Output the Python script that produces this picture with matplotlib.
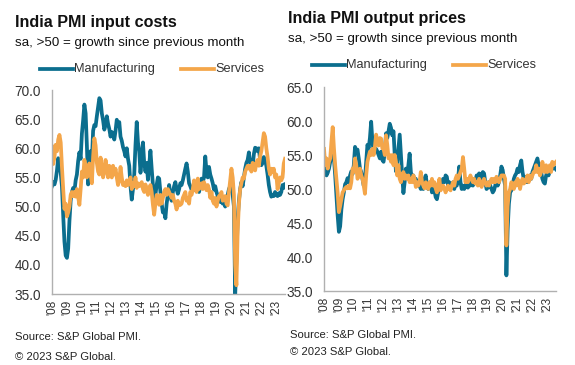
import numpy as np
import matplotlib.pyplot as plt

plt.rcParams['font.family'] = ['Liberation Sans', 'DejaVu Sans']

# Datos mensuales, ene 2008 - ago 2023
meses = np.arange(188)
etiquetas_anios = ["'%02d" % a for a in range(8, 24)]

# Costes de insumos - manufacturas
insumos_manuf = [
    53.5, 54.2, 53.8, 54.6, 56.2, 58.3, 57.5, 55.8, 53.5, 48.5, 44.0, 41.6,
    41.2, 42.8, 47.5, 51.0, 52.5, 53.2, 52.6, 54.5, 55.5, 57.8, 59.3, 58.2,
    62.5, 64.8, 67.5, 66.0, 60.5, 53.8, 55.2, 59.5, 57.8, 63.0, 64.0, 63.8,
    65.5, 67.0, 68.6, 68.2, 66.0, 64.8, 63.2, 64.0, 65.5, 64.2, 63.3, 62.0,
    62.8, 62.4, 61.5, 63.0, 64.9, 63.8, 64.5, 62.0, 61.3, 60.2, 59.5, 58.6,
    60.0, 58.2, 57.0, 53.5, 51.2, 53.0, 55.5, 60.5, 64.5, 61.0, 59.5, 55.8,
    58.0, 61.0, 57.5, 56.0, 57.5, 54.6, 57.0, 59.6, 56.5, 53.7, 50.5, 52.0,
    53.7, 55.0, 54.8, 52.5, 50.5, 49.0, 49.2, 48.0, 50.5, 52.0, 53.7, 52.0,
    51.0, 52.5, 53.5, 54.2, 53.0, 52.2, 53.0, 54.0, 53.7, 54.5, 55.5, 56.5,
    57.4, 56.0, 54.0, 53.5, 52.9, 53.2, 52.8, 53.5, 53.7, 54.0, 52.5, 53.5,
    54.8, 54.2, 55.0, 58.6, 56.0, 55.0, 56.8, 55.5, 54.8, 54.0, 52.9, 53.5,
    52.5, 51.8, 51.5, 50.8, 51.2, 50.5, 51.0, 50.0, 51.5, 52.0, 53.0, 53.5,
    53.0, 52.0, 50.0, 34.8, 41.0, 48.0, 51.0, 53.0, 54.2, 53.5, 55.0, 56.5,
    57.5, 58.0, 59.3, 57.5, 58.0, 57.0, 59.0, 60.1, 60.0, 59.5, 60.0, 58.0,
    57.1, 57.5, 58.5, 58.0, 57.0, 55.5, 53.7, 52.5, 51.7, 52.0, 51.8, 52.5,
    52.0, 51.8, 52.3, 52.0, 52.5, 53.7, 53.2, 53.8,
]

# Costes de insumos - servicios
insumos_serv = [
    60.3, 57.3, 58.5, 60.6, 59.5, 61.5, 62.3, 61.0, 56.8, 53.0, 49.6, 50.5,
    48.3, 49.0, 50.0, 52.0, 52.5, 51.8, 52.5, 51.7, 53.0, 51.7, 50.3, 53.0,
    56.0, 55.0, 58.0, 57.0, 55.0, 56.0, 57.4, 55.5, 54.0, 58.5, 61.7, 60.5,
    57.5, 56.0, 55.5, 58.4, 57.0, 55.0, 56.0, 58.0, 56.5, 55.0, 57.0, 56.2,
    55.0, 57.0, 55.5, 56.5, 55.0, 53.7, 54.5, 56.8, 55.0, 53.7, 54.0, 53.5,
    54.5, 53.7, 54.0, 55.0, 53.0, 54.0, 53.5, 55.0, 53.2, 54.0, 53.5, 53.7,
    54.2, 53.0, 52.5, 53.8, 53.0, 52.0, 53.0, 53.7, 52.5, 50.3, 48.6, 50.5,
    52.0, 51.5, 50.3, 52.0, 50.5, 51.5, 52.5, 53.0, 52.0, 53.0, 52.5, 52.0,
    51.5, 52.0, 51.0, 50.5, 49.5, 51.0, 50.2, 50.3, 50.5, 51.5, 52.0, 52.5,
    51.0, 51.5, 50.5, 52.5, 52.0, 53.0, 54.5, 53.5, 52.5, 54.8, 53.0, 53.5,
    54.0, 53.0, 54.2, 53.5, 52.8, 53.7, 53.0, 51.5, 52.5, 51.0, 50.5, 51.5,
    50.0, 51.0, 51.8, 52.0, 52.5, 51.0, 51.5, 51.8, 50.5, 50.2, 52.5, 54.5,
    56.5, 55.0, 52.0, 40.0, 36.5, 45.7, 50.5, 53.0, 54.0, 55.0, 54.8, 56.0,
    56.5, 57.0, 56.5, 57.0, 56.0, 57.5, 57.0, 56.2, 57.5, 58.0, 57.0, 58.6,
    59.5, 61.0, 62.6, 62.0, 60.0, 58.5, 56.5, 55.5, 56.5, 56.0, 56.5, 55.0,
    55.5, 53.0, 54.0, 55.0, 54.5, 55.0, 57.4, 58.2,
]

# Precios de venta - manufacturas
precios_manuf = [
    54.0, 52.5, 52.0, 52.4, 53.0, 54.0, 55.5, 56.0, 54.5, 52.0, 49.0, 46.1,
    43.7, 44.5, 47.0, 48.5, 49.5, 50.7, 51.0, 51.6, 51.0, 52.0, 52.6, 52.2,
    53.5, 56.2, 55.5, 55.8, 54.5, 53.0, 52.5, 51.5, 50.5, 51.5, 54.0, 56.5,
    56.0, 57.5, 59.9, 57.0, 55.5, 56.0, 55.9, 55.5, 55.0, 54.5, 55.5, 54.3,
    54.0, 55.5, 58.2, 57.5, 58.5, 59.6, 59.0, 57.9, 58.5, 55.0, 52.6, 54.0,
    56.0, 58.0, 55.0, 52.0, 49.4, 51.0, 53.0, 52.0, 53.5, 55.2, 52.5, 51.5,
    52.0, 51.0, 51.5, 50.5, 51.0, 50.5, 50.0, 51.0, 50.0, 51.5, 52.0, 50.5,
    50.0, 50.5, 51.0, 49.5, 50.0, 49.8, 48.8, 48.5, 49.5, 50.5, 50.0, 50.8,
    51.5, 51.0, 52.0, 51.8, 50.5, 51.0, 50.0, 50.5, 51.0, 50.0, 51.0, 50.5,
    51.5, 53.3, 51.0, 50.0, 50.5, 50.0, 50.5, 51.0, 50.2, 51.0, 50.5, 51.5,
    50.5, 51.5, 51.0, 52.0, 51.5, 52.3, 51.0, 52.0, 52.5, 52.3, 51.0, 50.0,
    50.2, 51.0, 50.5, 50.0, 49.5, 49.8, 50.5, 51.5, 50.5, 51.0, 52.0, 53.3,
    52.8, 51.5, 50.5, 37.3, 44.0, 47.8, 49.5, 49.8, 50.5, 51.5, 52.0, 52.3,
    53.0, 52.5, 53.5, 54.2, 52.5, 51.5, 51.0, 51.8, 51.0, 51.5, 52.0, 51.5,
    52.5, 53.0, 53.5, 54.0, 54.5, 53.5, 52.5, 52.5, 51.5, 51.0, 50.8, 52.0,
    52.5, 52.0, 53.0, 52.8, 53.5, 53.0, 53.2, 52.9,
]

# Precios de venta - servicios
precios_serv = [
    55.9, 53.5, 54.5, 53.0, 54.0, 54.5, 57.0, 59.1, 56.0, 53.5, 51.5, 49.4,
    46.6, 47.5, 48.5, 49.5, 49.8, 50.1, 50.3, 50.1, 50.5, 50.1, 51.0, 53.0,
    52.5, 54.5, 53.5, 51.5, 52.0, 53.0, 52.0, 51.5, 50.5, 49.3, 52.0, 54.0,
    54.8, 55.5, 55.0, 55.9, 55.0, 56.2, 58.0, 57.0, 56.4, 57.5, 57.4, 56.0,
    55.9, 55.0, 57.9, 56.5, 54.5, 55.0, 54.0, 55.0, 53.5, 55.0, 54.0, 52.0,
    53.5, 51.5, 51.0, 52.0, 52.5, 51.5, 52.0, 51.5, 52.0, 51.0, 51.5, 51.0,
    52.0, 51.5, 50.3, 51.0, 50.5, 51.0, 52.5, 51.0, 50.5, 50.1, 51.0, 50.5,
    50.0, 51.0, 50.5, 51.5, 50.5, 51.0, 50.1, 49.5, 50.5, 51.5, 49.8, 50.2,
    50.5, 50.1, 49.5, 50.0, 50.5, 50.0, 49.8, 50.5, 51.0, 50.5, 51.5, 52.0,
    51.5, 52.0, 52.5, 53.0, 54.7, 53.0, 51.0, 51.5, 51.0, 51.5, 52.0, 51.5,
    51.0, 51.5, 50.8, 51.0, 50.5, 51.5, 51.0, 50.3, 51.0, 51.5, 50.8, 50.5,
    51.0, 50.5, 51.0, 51.5, 51.0, 51.5, 51.0, 51.8, 51.5, 51.0, 51.5, 52.0,
    52.0, 52.0, 51.5, 41.7, 47.5, 49.5, 50.0, 51.0, 50.5, 50.0, 51.0, 50.5,
    51.5, 51.0, 50.0, 51.0, 51.5, 50.8, 51.0, 51.5, 52.0, 51.0, 52.0, 51.5,
    52.0, 52.5, 52.5, 53.5, 52.5, 53.0, 52.0, 52.5, 54.0, 53.0, 52.5, 53.5,
    52.5, 53.0, 53.5, 52.5, 54.0, 53.5, 53.8, 54.0,
]

azul = '#0b6e8e'
naranja = '#f4a64a'
gris = '#333333'

fig = plt.figure(figsize=(5.75, 3.65), dpi=100)

def panel(rect, manuf, serv, titulo, y_tit, y_sub, x_tit, y_leg, x_l1, x_l2):
    ax = fig.add_axes(rect)
    ax.plot(meses, manuf, color=azul, lw=2.7, solid_joinstyle='round')
    ax.plot(meses, serv, color=naranja, lw=2.7, solid_joinstyle='round')
    ax.set_xlim(0, len(meses) - 1)
    ax.set_xticks(meses[::12])
    ax.set_xticklabels(etiquetas_anios, rotation=90, fontsize=8.5, color=gris)
    ax.tick_params(length=0, pad=4)
    ax.tick_params(axis='y', labelsize=9.8, labelcolor=gris, pad=8)
    for s in ['top', 'right']:
        ax.spines[s].set_visible(False)
    for s in ['left', 'bottom']:
        ax.spines[s].set_color('#b0b0b0')
        ax.spines[s].set_linewidth(1.0)
    # Títulos
    fig.text(x_tit, y_tit, titulo, fontsize=11.6, fontweight='bold', color='#111111', va='center')
    fig.text(x_tit, y_sub, 'sa, >50 = growth since previous month', fontsize=9.6,
             color='#111111', va='center')
    # Leyenda manual
    for x0, col, nombre in [(x_l1, azul, 'Manufacturing'), (x_l2, naranja, 'Services')]:
        fig.add_artist(plt.Line2D([x0, x0 + 0.057], [y_leg, y_leg], color=col, lw=2.7,
                                  transform=fig.transFigure))
        fig.text(x0 + 0.059, y_leg, nombre, fontsize=9.2, color=gris, va='center')
    return ax

ax1 = panel([0.0904, 0.1945, 0.4053, 0.5589], insumos_manuf, insumos_serv,
            'India PMI input costs', 1 - 23 / 365, 1 - 43 / 365, 15 / 575,
            1 - 69 / 365, 40 / 575, 181 / 575)
ax1.set_ylim(35, 70)
ax1.set_yticks(np.arange(35, 71, 5))
ax1.set_yticklabels(['%.1f' % v for v in np.arange(35, 71, 5)])

ax2 = panel([0.5635, 0.2027, 0.4035, 0.5589], precios_manuf, precios_serv,
            'India PMI output prices', 1 - 19 / 365, 1 - 39 / 365, 288 / 575,
            1 - 65 / 365, 312 / 575, 453 / 575)
ax2.set_ylim(35, 65)
ax2.set_yticks(np.arange(35, 66, 5))
ax2.set_yticklabels(['%.1f' % v for v in np.arange(35, 66, 5)])

# Fuentes
fig.text(15 / 575, 1 - 337 / 365, 'Source: S&P Global PMI.', fontsize=8.1, color='#222222', va='center')
fig.text(15 / 575, 1 - 357 / 365, '\u00a9 2023 S&P Global.', fontsize=8.1, color='#222222', va='center')
fig.text(290 / 575, 1 - 335 / 365, 'Source: S&P Global PMI.', fontsize=8.1, color='#222222', va='center')
fig.text(290 / 575, 1 - 352 / 365, '\u00a9 2023 S&P Global.', fontsize=8.1, color='#222222', va='center')

fig.savefig('out.png', dpi=100)
